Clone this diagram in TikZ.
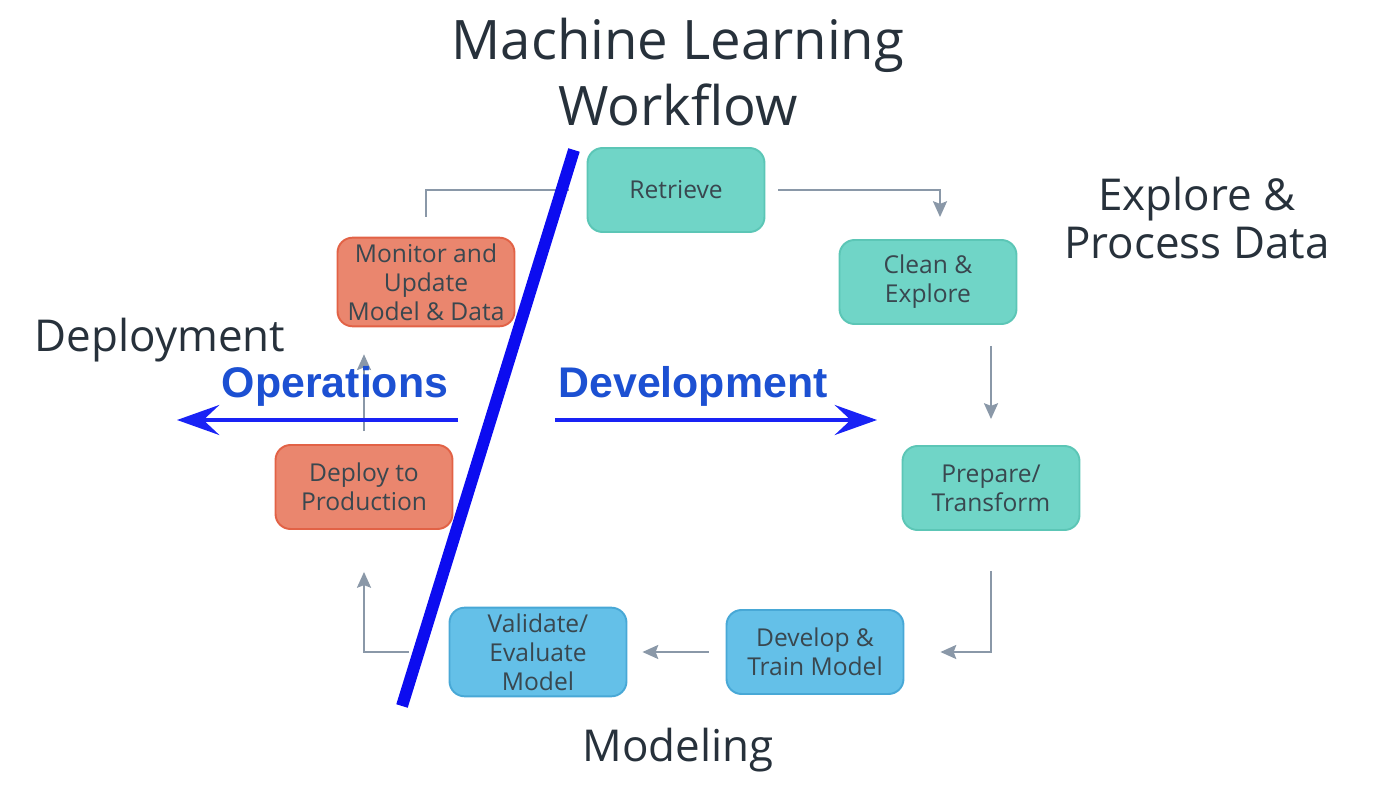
\documentclass[tikz,border=0pt]{standalone}
\usepackage{fontspec}
\setmainfont{Open Sans}
\newfontfamily\arialfont{Liberation Sans}
\usetikzlibrary{arrows.meta}

\definecolor{tealfill}{RGB}{112,213,199}
\definecolor{tealline}{RGB}{92,198,182}
\definecolor{orangefill}{RGB}{234,134,110}
\definecolor{orangeline}{RGB}{226,98,70}
\definecolor{bluefill}{RGB}{100,192,232}
\definecolor{blueline}{RGB}{72,168,214}
\definecolor{boxtext}{RGB}{57,71,79}
\definecolor{headtext}{RGB}{39,49,59}
\definecolor{flowgray}{RGB}{138,152,168}
\definecolor{slashblue}{RGB}{12,12,240}
\definecolor{arrowblue}{RGB}{25,35,245}
\definecolor{labelblue}{RGB}{28,80,210}

\tikzset{
  stage/.style={rounded corners=0.3cm, line width=1.1pt, minimum width=3.54cm,
    minimum height=1.68cm, align=center, text=boxtext,
    font=\fontsize{14}{16.5}\selectfont},
  explore/.style={stage, fill=tealfill, draw=tealline},
  deploy/.style={stage, fill=orangefill, draw=orangeline},
  model/.style={stage, fill=bluefill, draw=blueline},
  flow/.style={draw=flowgray, line width=1.1pt},
  flowtip/.style={flow, -{Stealth[length=9pt,width=8pt,inset=1.5pt]}},
  phase/.style={text=headtext, align=center, font=\fontsize{25}{27}\selectfont},
  side/.style={text=labelblue, font=\arialfont\bfseries\fontsize{24.4}{28}\selectfont},
  bigarrow/.style={draw=arrowblue, line width=2.8pt,
    -{Stealth[length=24pt,width=17pt,inset=9pt]}}
}

\begin{document}
\begin{tikzpicture}[x=0.02cm, y=-0.02cm]
    \useasboundingbox (0,0) rectangle (1375,793);

    % title and phases
    \node[phase, font=\fontsize{31}{37.6}\selectfont] (title) at (678,72)
    {Machine Learning\\Workflow};
    \node[phase] (explab) at (1197,218) {Explore \&\\Process Data};
    \node[phase] (deplab) at (160,340) {Deployment};
    \node[phase] (modlab) at (678,750) {Modeling};

    % stages
    \node[explore] (ret) at (676,190) {Retrieve};
    \node[explore] (cle) at (928,282) {Clean \&\\Explore};
    \node[explore] (pre) at (991,488) {Prepare/\\Transform};
    \node[model] (dev) at (815,652) {Develop \&\\Train Model};
    \node[model] (val) at (538,652) {Validate/\\Evaluate\\Model};
    \node[deploy] (dep) at (364,487) {Deploy to\\Production};
    \node[deploy] (mon) at (426,282) {Monitor and\\Update\\Model \& Data};

    % flow between stages
    \draw[flowtip, shorten <=0.26cm, shorten >=0.44cm]
    (ret.east) -| ([xshift=0.24cm]cle.north);
    \draw[flowtip, shorten <=0.42cm, shorten >=0.52cm]
    (cle.south -| pre.north) -- (pre.north);
    \draw[flowtip, shorten <=0.8cm, shorten >=0.72cm]
    (pre.south) |- (dev.east);
    \draw[flowtip, shorten <=0.34cm, shorten >=0.3cm]
    (dev.west) -- (val.east);
    \draw[flowtip, shorten <=0.8cm, shorten >=0.84cm]
    (val.west) -| (dep.south);
    \draw[flowtip, shorten <=0.26cm, shorten >=0.54cm]
    (dep.north) -- (dep.north |- mon.south);
    \draw[flow, shorten <=0.4cm, shorten >=0.36cm]
    (mon.north) |- (ret.west);

    % operations / development split
    \draw[slashblue, line width=6.8pt] (574,150) -- (402,706);
    \node[side] (ops) at (335,386) {Operations};
    \node[side] (devl) at (693,386) {Development};
    \draw[bigarrow] (458,420) -- (177,420);
    \draw[bigarrow] (555,420) -- (877,420);
\end{tikzpicture}
\end{document}
